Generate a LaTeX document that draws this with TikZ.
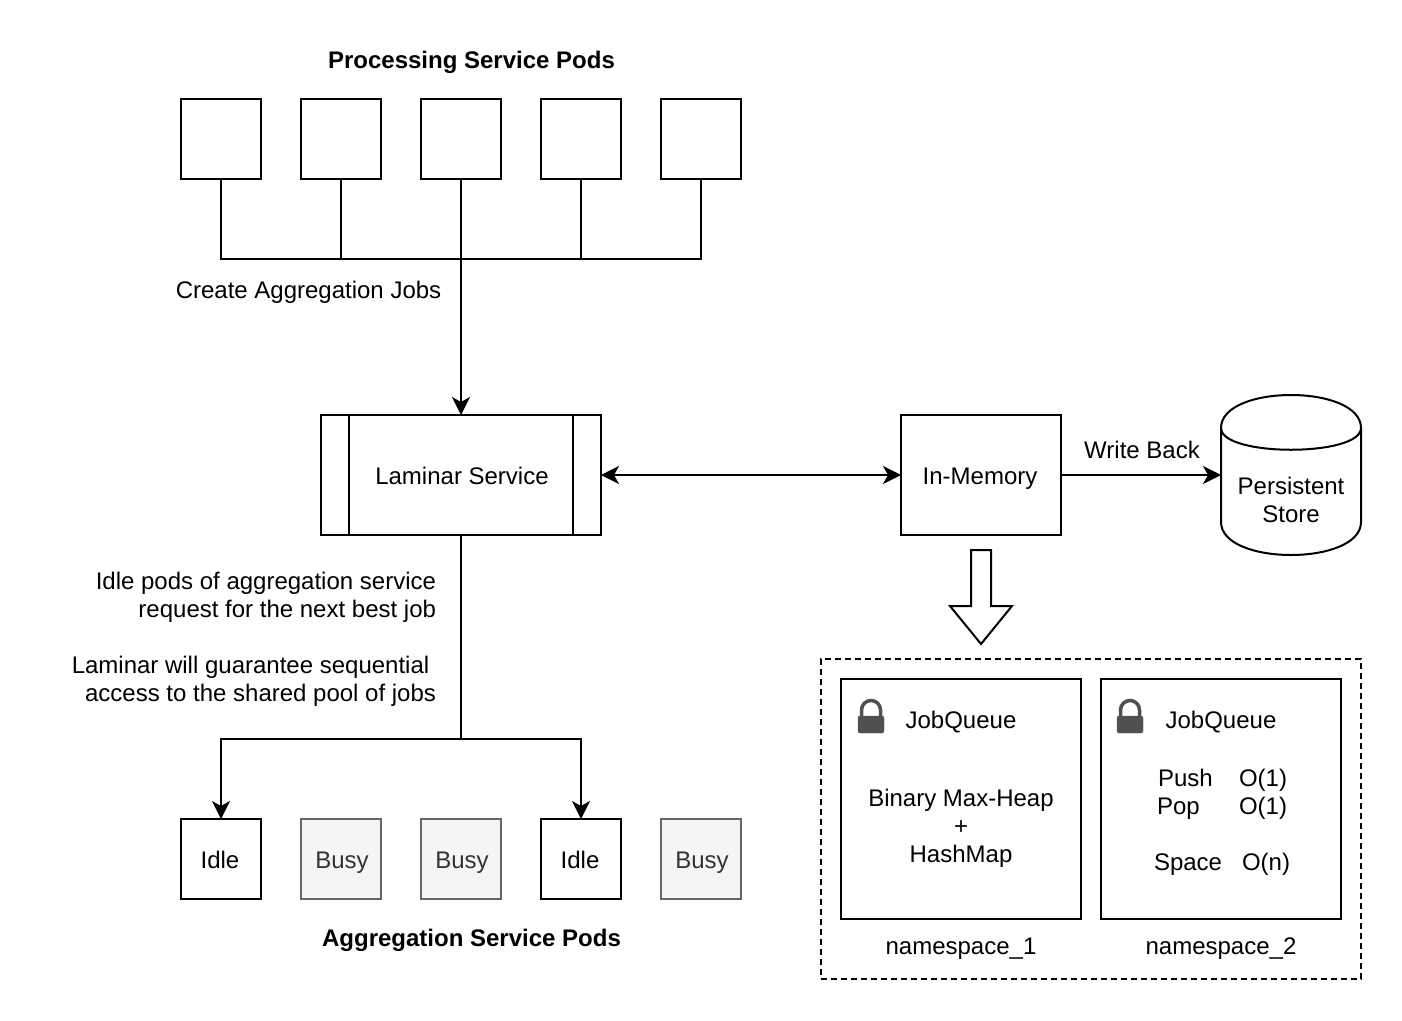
\documentclass[tikz,border=0pt]{standalone}
\usepackage{fontspec}
\setmainfont{Liberation Sans}
\usetikzlibrary{arrows.meta}
\definecolor{busyfill}{HTML}{F5F5F5}
\definecolor{busyline}{HTML}{666666}
\definecolor{busytext}{HTML}{333333}
\definecolor{lockgray}{HTML}{505050}
\tikzset{
  txt/.style={font=\fontsize{24}{28}\selectfont, inner sep=0, outer sep=0},
  lbl/.style={txt, text height=17, text depth=5},
  boldlbl/.style={lbl, font=\fontsize{24}{28}\selectfont\bfseries},
  pod/.style={txt, text height=23, text depth=5, draw=black, line width=2, minimum size=80},
  busypod/.style={pod, draw=busyline, fill=busyfill, text=busytext},
  box/.style={txt, text height=23, text depth=5, draw=black, line width=2, minimum width=#1, minimum height=120},
  nsbox/.style={draw=black, line width=2, minimum size=240, inner sep=0, outer sep=0},
  conn/.style={line width=2},
  arrow/.style={line width=2, -{Stealth[length=18,width=18,inset=5]}},
  dblarrow/.style={line width=2, {Stealth[length=18,width=18,inset=5]}-{Stealth[length=18,width=18,inset=5]}},
  lockicon/.pic={
    \filldraw [color=lockgray, rounded corners=2] (-13,0) rectangle (13,17);
    \draw [color=lockgray, line width=3.5] (-9.5,1) -- (-9.5,-6) arc (180:0:9.5 and -9.5) -- (9.5,1);
  }
}
\begin{document}
\begin{tikzpicture}[x=1pt,y=-1pt]
  \useasboundingbox (0,0) rectangle (1402,1020);
  % processing pods
  \node [boldlbl] (proctitle) at (471.5,62) {Processing Service Pods};
  \node [pod] (proc1) at (221,139) {};
  \node [pod] (proc2) at (341,139) {};
  \node [pod] (proc3) at (461,139) {};
  \node [pod] (proc4) at (581,139) {};
  \node [pod] (proc5) at (701,139) {};
  \coordinate (busjoin) at (461,259);
  \draw [conn] (proc1) |- (busjoin);
  \draw [conn] (proc2) |- (busjoin);
  \draw [conn] (proc4) |- (busjoin);
  \draw [conn] (proc5) |- (busjoin);
  \node [lbl] (createlabel) at (308.5,292) {Create Aggregation Jobs};

  % laminar, memory and store
  \node [box=280] (laminar) at (461,475) {\hspace*{2pt}Laminar Service};
  \draw [conn] ([xshift=28]laminar.north west) -- ([xshift=28]laminar.south west);
  \draw [conn] ([xshift=-28]laminar.north east) -- ([xshift=-28]laminar.south east);
  \node [box=160] (memory) at (981,475) {In-Memory\hspace*{2pt}};
  \node [txt, minimum width=140, minimum height=160, align=center] (store) at (1291,475) {\\[40pt]Persistent\\Store};
  \draw [line width=2] (1221,428) .. controls (1221,384) and (1361,384) .. (1361,428) -- (1361,522)
    .. controls (1361,566) and (1221,566) .. (1221,522) -- cycle;
  \draw [line width=2] (1221,428) .. controls (1221,457) and (1361,457) .. (1361,428);
  \draw [arrow] (proc3) -- (laminar);
  \draw [dblarrow] (laminar) -- (memory);
  \draw [arrow] (memory) -- (store);
  \node [lbl] (writelabel) at (1142,452) {Write Back};

  % block arrow down to the queues
  \draw [line width=2] (971,550) -- (991,550) -- (991,606) -- (1012,606) -- (981,644) -- (950,606) -- (971,606) -- cycle;

  % aggregation pods
  \node [txt, align=right, anchor=north east] (idlelabel) at (436,572) {Idle pods of aggregation service\\request for the next best job\\\mbox{}\\Laminar will guarantee sequential\hspace*{6.7pt}\mbox{}\\access to the shared pool of jobs};
  \coordinate (split) at (461,739);
  \node [pod] (agg1) at (221,859) {Idle\hspace*{2pt}};
  \node [busypod] (agg2) at (341,859) {\hspace*{2pt}Busy};
  \node [busypod] (agg3) at (461,859) {\hspace*{2pt}Busy};
  \node [pod] (agg4) at (581,859) {Idle\hspace*{2pt}};
  \node [busypod] (agg5) at (701,859) {\hspace*{2pt}Busy};
  \draw [conn] (laminar) -- (split);
  \draw [arrow] (split) -| (agg1);
  \draw [arrow] (split) -| (agg4);
  \node [boldlbl] (aggtitle) at (471.5,940) {Aggregation Service Pods};

  % namespaces
  \node [draw=black, line width=2, dash pattern=on 6 off 4, minimum width=540, minimum height=320, inner sep=0] (outer) at (1091,819) {};
  \node [nsbox] (ns1) at (961,799) {};
  \node [nsbox] (ns2) at (1221,799) {};
  \pic at (871,716) {lockicon};
  \pic at (1130,716) {lockicon};
  \node [lbl] (queue1) at (961,722) {JobQueue};
  \node [lbl] (queue2) at (1221,722) {JobQueue};
  \node [txt, align=center] (heap) at (961,828) {Binary Max-Heap\\+\\HashMap};
  \node [lbl, anchor=west] (push) at (1158,780) {Push};
  \node [lbl, anchor=west] (pushcost) at (1239,780) {O(1)};
  \node [lbl, anchor=west] (pop) at (1157,808) {Pop};
  \node [lbl, anchor=west] (popcost) at (1239,808) {O(1)};
  \node [lbl, anchor=west] (space) at (1154,864) {Space};
  \node [lbl, anchor=west] (spacecost) at (1242,864) {O(n)};
  \node [lbl] (name1) at (961,948) {namespace\_1};
  \node [lbl] (name2) at (1221,948) {namespace\_2};
\end{tikzpicture}
\end{document}
